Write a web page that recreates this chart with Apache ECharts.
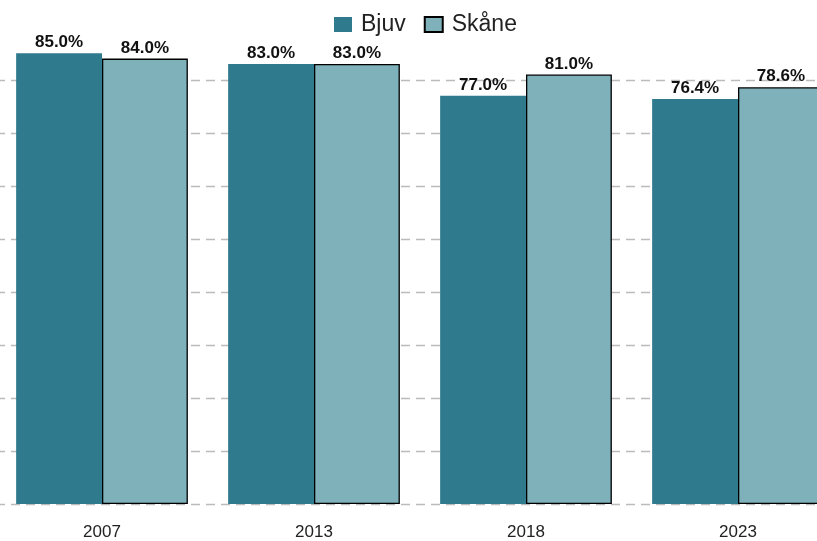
<!DOCTYPE html>
<html>
<head>
<meta charset="utf-8">
<script src="https://cdn.jsdelivr.net/npm/echarts@6/dist/echarts.min.js"></script>
<style>
  html, body { margin: 0; padding: 0; background: #fff; overflow: hidden; }
  /* plot runs a little past both page edges, like the source */
  #main { width: 848px; height: 541px; margin-left: -4px; }
</style>
</head>
<body>
<div id="main"></div>
<script>
var years = ['2007', '2013', '2018', '2023'];
var bjuv = [85.0, 83.0, 77.0, 76.4];
var skane = [84.0, 83.0, 81.0, 78.6];

var chart = echarts.init(document.getElementById('main'));

var labelStyle = {
  show: true,
  position: 'top',
  distance: 2,
  fontFamily: 'Arial',
  fontWeight: 'bold',
  fontSize: 17,
  color: '#111',
  formatter: function (p) { return p.value.toFixed(1) + '%'; }
};

chart.setOption({
  animation: false,
  textStyle: { fontFamily: 'Arial' },
  legend: {
    top: 8,
    left: 333,
    icon: 'rect',
    itemWidth: 18,
    itemHeight: 15,
    itemGap: 18,
    textStyle: { fontSize: 23, color: '#222', fontFamily: 'Arial', padding: [0, 0, 0, 4] },
    data: ['Bjuv', 'Skåne']
  },
  grid: {
    left: 0,
    right: 0,
    top: 48,
    bottom: 36,
    containLabel: false
  },
  xAxis: {
    type: 'category',
    data: years,
    axisLine: { show: false },
    axisTick: { show: false },
    axisLabel: { fontSize: 17, color: '#222', margin: 20, fontFamily: 'Arial' }
  },
  yAxis: {
    type: 'value',
    min: 0,
    max: 86,
    interval: 10,
    axisLabel: { show: false },
    axisLine: { show: false },
    axisTick: { show: false },
    splitLine: {
      show: true,
      showMaxLine: false,
      lineStyle: { color: '#bbbbbb', type: [9, 6], width: 1.3 }
    }
  },
  series: [
    {
      name: 'Bjuv',
      type: 'bar',
      data: bjuv,
      barGap: '0%',
      barCategoryGap: '19%',
      itemStyle: { color: '#2f7a8d' },
      label: labelStyle
    },
    {
      name: 'Skåne',
      type: 'bar',
      data: skane,
      itemStyle: { color: '#7fb1bb', borderColor: '#000', borderWidth: 1.3 },
      label: labelStyle
    }
  ]
});
</script>
</body>
</html>
